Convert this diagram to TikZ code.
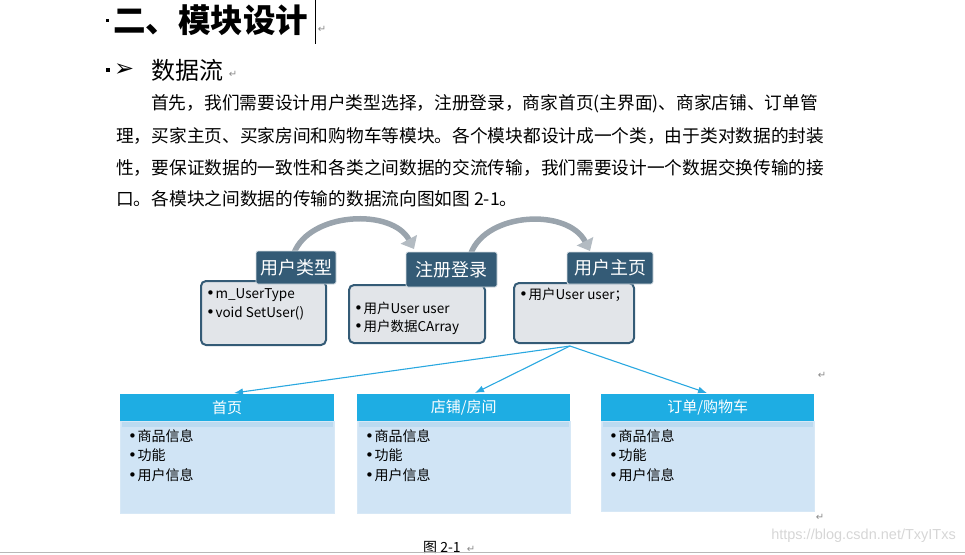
\documentclass[tikz,border=0pt]{standalone}
\usepackage{fontspec}
\setmainfont{Noto Sans CJK SC}
\newfontfamily\dejavu{DejaVu Sans}
\newfontfamily\libsans{Liberation Sans}
\usetikzlibrary{arrows.meta}
\definecolor{hdr}{HTML}{345B76}
\definecolor{gboxfill}{HTML}{E2E5E9}
\definecolor{cyanh}{HTML}{1EADE3}
\definecolor{cbody}{HTML}{D0E4F5}
\definecolor{cstrip}{HTML}{BCDAF0}
\definecolor{arrowb}{HTML}{2AA8E0}
\definecolor{arcg}{HTML}{9AA4AD}
\definecolor{arcgl}{HTML}{B3BBC2}
\definecolor{markg}{HTML}{8A8A8A}
\newcommand\mybul{{\dejavu\fontsize{15}{15}\selectfont •}\hspace{0.5pt}}
\tikzset{
  para/.style={anchor=west, inner sep=0pt, font=\fontsize{17.7}{18}\selectfont},
  pmark/.style={inner sep=0pt, text=markg, font=\dejavu\fontsize{10}{10}\selectfont},
  hdrbox/.style={fill=hdr, draw=white!80!hdr, line width=0.8pt, rounded corners=2pt, inner sep=0pt,
     text=white, font=\fontsize{18}{18}\selectfont},
  graybox/.style={fill=gboxfill, draw=hdr, line width=2pt, rounded corners=5pt, inner sep=0pt},
  itemtxt/.style={anchor=west, inner sep=0pt, font=\fontsize{13.5}{14}\selectfont},
  bluehdr/.style={fill=cyanh, inner sep=0pt, text=white, font=\fontsize{15}{15}\selectfont},
  bluebody/.style={fill=cbody, draw=cbody!85!white, line width=0.8pt, inner sep=0pt},
  bodytxt/.style={anchor=west, inner sep=0pt, font=\fontsize{14}{14}\selectfont},
  flow/.style={draw=arrowb, line width=1.1pt, -{Latex[length=9pt,width=7pt]}},
  bigarc/.style={draw=arcg, line width=5.5pt, -{Triangle[length=11pt,width=18pt,color=arcgl]}},
}
\begin{document}
\begin{tikzpicture}[x=1pt,y=-1pt]
\useasboundingbox (0,0) rectangle (965,554);

% heading
\fill (106,19) rectangle (109,22);
\node[anchor=west, inner sep=0pt, font=\bfseries\fontsize{32.5}{33}\selectfont] (title) at (113,20) {二、模块设计};
\draw[line width=0.8pt] (315,0) -- (315,44);
\node[pmark] (pm1) at (322,29) {↵};

\fill (106,68) rectangle (110,72);
\node[anchor=west, inner sep=0pt, font=\dejavu\fontsize{24}{24}\selectfont] (bul) at (114,70) {➢};
\node[anchor=west, inner sep=0pt, font=\fontsize{24}{24}\selectfont] (sub) at (151,70) {数据流};
\node[pmark] (pm2) at (233,74) {↵};

% paragraph
\node[para] (p1) at (151,104) {首先，我们需要设计用户类型选择，注册登录，商家首页(主界面)、商家店铺、订单管};
\node[para] (p2) at (116,136) {理，买家主页、买家房间和购物车等模块。各个模块都设计成一个类，由于类对数据的封装};
\node[para] (p3) at (116,168) {性，要保证数据的一致性和各类之间数据的交流传输，我们需要设计一个数据交换传输的接};
\node[para] (p4) at (116,199) {口。各模块之间数据的传输的数据流向图如图 2-1。};

% curved grey arrows
\coordinate (a1s) at (294,253);
\coordinate (a1e) at (414,249);
\coordinate (a2s) at (471,253);
\coordinate (a2e) at (590,251);
\draw[bigarc] (a1s) .. controls (310,212) and (392,208) .. (a1e);
\draw[bigarc] (a2s) .. controls (487,212) and (568,208) .. (a2e);

% grey boxes
\node[graybox, minimum width=125, minimum height=64] (b1) at (263.5,313) {};
\node[graybox, minimum width=136, minimum height=58] (b2) at (417,314) {};
\node[graybox, minimum width=120, minimum height=60] (b3) at (574,313) {};

\node[itemtxt] (b1a) at (206,295) {\mybul m\_UserType};
\node[itemtxt] (b1b) at (206,313) {\mybul void SetUser()};
\node[itemtxt] (b2a) at (354,308) {\mybul 用户User user};
\node[itemtxt] (b2b) at (354,327) {\mybul 用户数据CArray};
\node[itemtxt] (b3a) at (519,295) {\mybul 用户User user；};

% dark headers
\node[hdrbox, minimum width=80, minimum height=33] (h1) at (296,267.5) {用户类型};
\node[hdrbox, minimum width=91, minimum height=35] (h2) at (451.5,269.5) {注册登录};
\node[hdrbox, minimum width=86, minimum height=32] (h3) at (610,268) {用户主页};

% bottom boxes
\node[bluebody, minimum width=214, minimum height=92, anchor=north west] (m1) at (120,421) {};
\node[bluebody, minimum width=213, minimum height=92, anchor=north west] (m2) at (357,421) {};
\node[bluebody, minimum width=213, minimum height=90, anchor=north west] (m3) at (601,421) {};
\fill[cstrip] (121.5,422) rectangle (332.5,427);
\fill[cstrip] (358.5,422) rectangle (568.5,427);
\fill[cstrip] (602.5,422) rectangle (812.5,427);
\node[bluehdr, minimum width=214, minimum height=27, anchor=north west] (c1) at (120,394) {首页};
\node[bluehdr, minimum width=213, minimum height=27, anchor=north west] (c2) at (357,394) {店铺/房间};
\node[bluehdr, minimum width=213, minimum height=27, anchor=north west] (c3) at (601,394) {订单/购物车};

\foreach \n/\x in {1/128, 2/365, 3/609}{
  \node[bodytxt] (m\n a) at (\x,436) {\mybul 商品信息};
  \node[bodytxt] (m\n b) at (\x,455) {\mybul 功能};
  \node[bodytxt] (m\n c) at (\x,475) {\mybul 用户信息};
}

% blue connectors
\coordinate (src) at (570,346);
\coordinate (t1) at (234,393);
\coordinate (t2) at (475,393);
\coordinate (t3) at (707,393);
\draw[flow] (src) -- (t1);
\draw[flow] (src) -- (t2);
\draw[flow] (src) -- (t3);

\node[pmark] (pm3) at (822,375) {↵};
\node[pmark] (pm4) at (820,517) {↵};

% caption and footer
\node[anchor=west, inner sep=0pt, font=\fontsize{14}{14}\selectfont] (cap) at (423,547) {图 2-1};
\node[pmark] (pm5) at (471,549) {↵};
\node[anchor=east, inner sep=0pt, text=black!16, font=\libsans\fontsize{14.5}{14.5}\selectfont] (wm) at (956,536) {https://blog.csdn.net/TxyITxs};
\draw[black!28, line width=1.2pt] (0,552.5) -- (965,552.5);
\end{tikzpicture}
\end{document}
